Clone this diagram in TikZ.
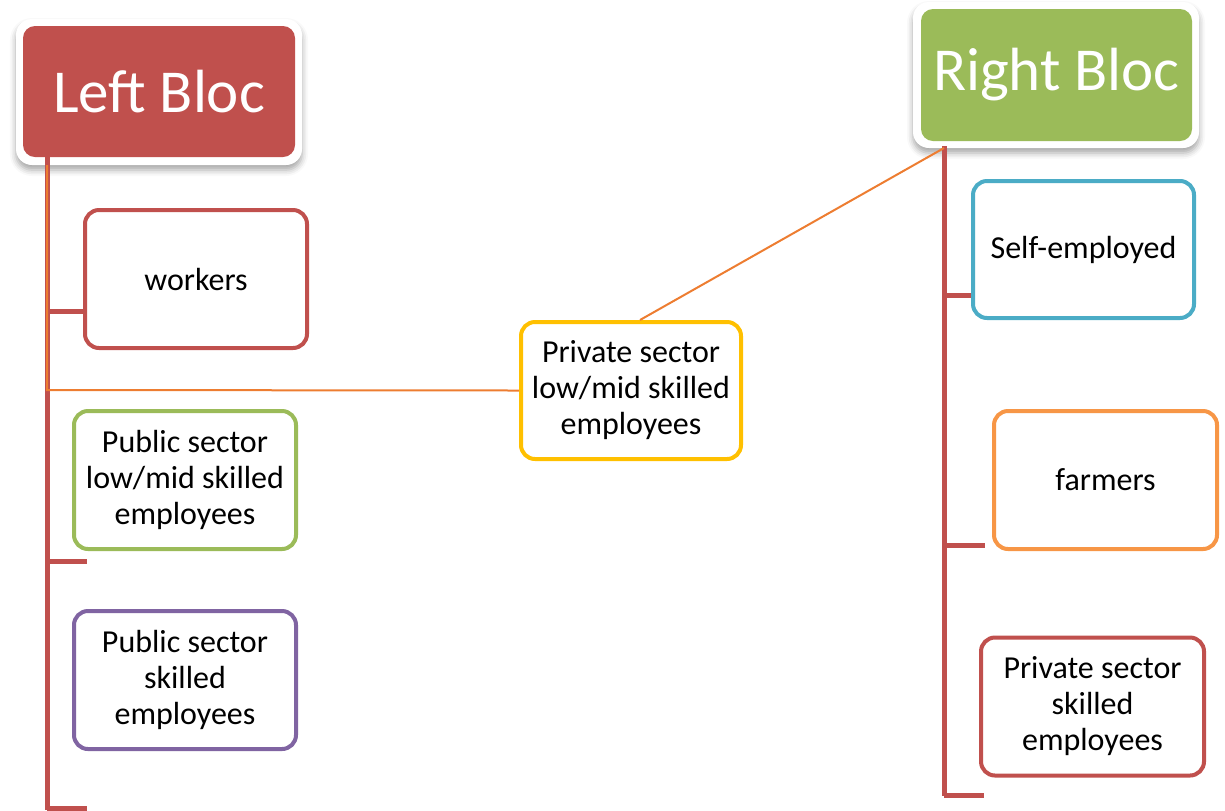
\documentclass[tikz,border=0pt]{standalone}
\usepackage{fontspec}
\setmainfont{Carlito}
\usetikzlibrary{shadows.blur}
\definecolor{cred}{HTML}{C0504D}
\definecolor{cgreen}{HTML}{9BBB59}
\definecolor{cpurple}{HTML}{8064A2}
\definecolor{cgold}{HTML}{FFC000}
\definecolor{cblue}{HTML}{4BACC6}
\definecolor{corange}{HTML}{F79646}
\definecolor{cline}{HTML}{ED7D31}
\begin{document}
\begin{tikzpicture}[x=0.5pt,y=-0.5pt,
  box/.style={draw, line width=2pt, rounded corners=7pt, fill=white, align=center,
    inner sep=0pt, minimum width=111pt, minimum height=69pt,
    font=\fontsize{16}{18}\selectfont},
  headout/.style={fill=white, rounded corners=8pt, minimum width=143pt, minimum height=73pt,
    blur shadow={shadow xshift=0pt, shadow yshift=-2.5pt, shadow blur radius=3pt, shadow opacity=35}},
  headin/.style={rounded corners=6pt, text=white, align=center, inner sep=0pt,
    font=\fontsize{30.5}{34}\selectfont},
  redline/.style={draw=cred, line width=2.5pt},
  orangeline/.style={draw=cline, line width=1pt}]
\useasboundingbox (0,0) rectangle (1225,810);
% coordinates of the spine lines
\coordinate (lt) at (47,157);
\coordinate (lb) at (47,810);
\coordinate (l1) at (47,311);
\coordinate (l1e) at (83,311);
\coordinate (lo) at (47,390);
\coordinate (l2) at (47,561);
\coordinate (l2e) at (87,561);
\coordinate (l3) at (47,808);
\coordinate (l3e) at (87,808);
\coordinate (rt) at (944,146);
\coordinate (rb) at (944,796);
\coordinate (r1) at (944,295);
\coordinate (r1e) at (982,295);
\coordinate (r2) at (944,545);
\coordinate (r2e) at (985,545);
\coordinate (r3) at (944,795);
\coordinate (r3e) at (984,795);
\coordinate (ro) at (944,148);
% headers
\node[headout, minimum width=143pt, minimum height=73pt] (lhout) at (159,92) {};
\node[headin, fill=cred, minimum width=136pt, minimum height=65.5pt] (lefthead) at (159,91.5) {Left Bloc};
\node[headout] (rhout) at (1056,75) {};
\node[headin, fill=cgreen, minimum width=135.5pt, minimum height=66pt] (righthead) at (1056.5,75) {Right Bloc};
% connectors
\draw[redline] (lt) -- (lb);
\draw[redline] (l1) -- (l1e);
\draw[redline] (l2) -- (l2e);
\draw[redline] (l3) -- (l3e);
\draw[redline] (rt) -- (rb);
\draw[redline] (r1) -- (r1e);
\draw[redline] (r2) -- (r2e);
\draw[redline] (r3) -- (r3e);
% boxes
\node[box, draw=cred] (workers) at (196,279) {workers};
\node[box, draw=cgreen] (pubmid) at (185,480) {Public sector\\low/mid skilled\\employees};
\node[box, draw=cpurple] (pubsk) at (185,680) {Public sector\\skilled\\employees};
\node[box, draw=cgold, minimum width=110pt, minimum height=68.5pt] (privmid) at (631,390.5) {Private sector\\low/mid skilled\\employees};
\node[box, draw=cblue, minimum width=110.5pt, minimum height=68.5pt] (self) at (1083.5,249.5) {Self-employed};
\node[box, draw=corange, minimum width=111.5pt] (farmers) at (1105.5,480) {farmers};
\node[box, draw=cred, minimum width=111.5pt] (privsk) at (1092.5,706.5) {Private sector\\skilled\\employees};
% orange connectors
\draw[orangeline] (47,165) -- (lo) -- (privmid.west);
\draw[orangeline] (ro) -- ([xshift=4.5pt]privmid.north);
\end{tikzpicture}
\end{document}
